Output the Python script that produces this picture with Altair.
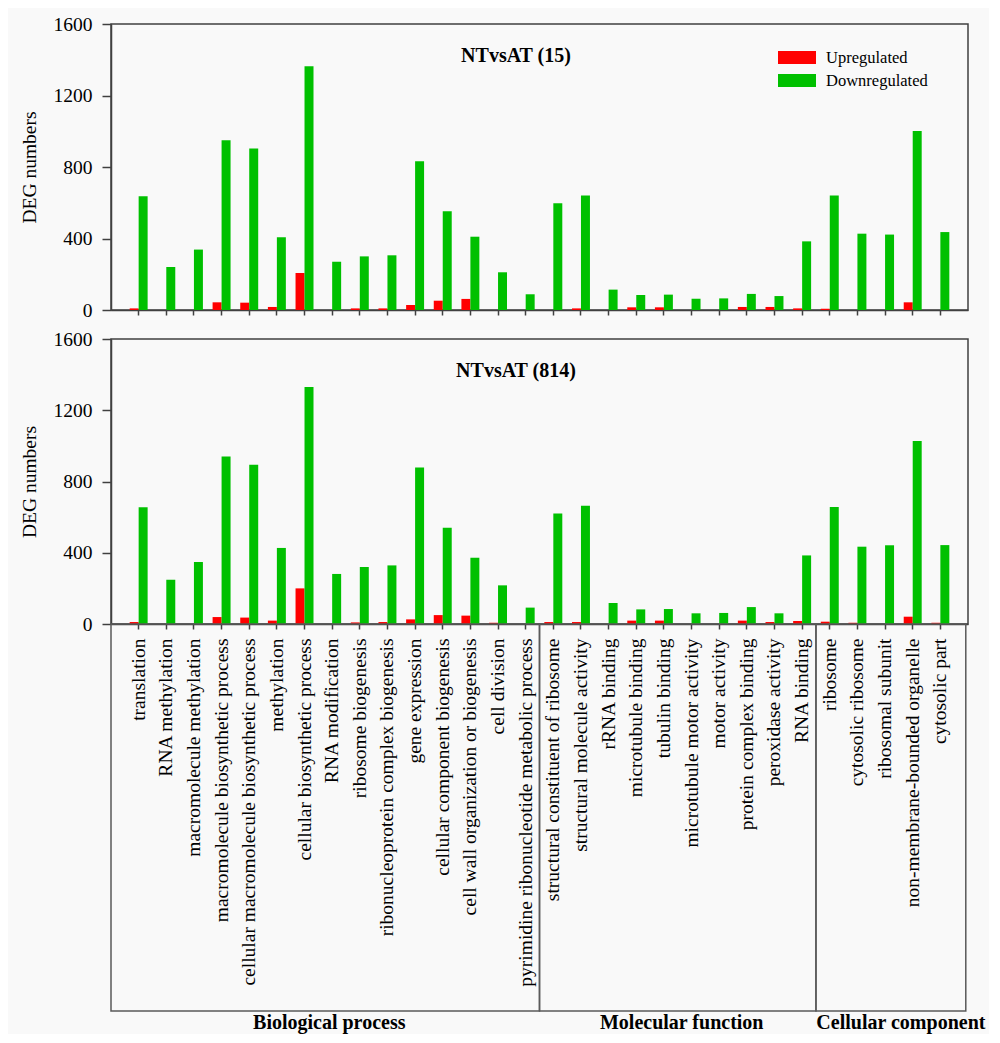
import altair as alt
import pandas as pd

categories = [
    "translation", "RNA methylation", "macromolecule methylation",
    "macromolecule biosynthetic process", "cellular macromolecule biosynthetic process",
    "methylation", "cellular biosynthetic process", "RNA modification",
    "ribosome biogenesis", "ribonucleoprotein complex biogenesis", "gene expression",
    "cellular component biogenesis", "cell wall organization or biogenesis",
    "cell division", "pyrimidine ribonucleotide metabolic process",
    "structural constituent of ribosome", "structural molecule activity",
    "rRNA binding", "microtubule binding", "tubulin binding",
    "microtubule motor activity", "motor activity", "protein complex binding",
    "peroxidase activity", "RNA binding",
    "ribosome", "cytosolic ribosome", "ribosomal subunit",
    "non-membrane-bounded organelle", "cytosolic part",
]
up_15 = [9, 0, 0, 43, 41, 17, 207, 0, 9, 9, 28, 52, 62, 0, 0,
         0, 9, 0, 15, 15, 0, 0, 17, 17, 9,
         7, 0, 0, 43, 0]
down_15 = [636, 241, 338, 949, 903, 407, 1363, 270, 300, 306, 832, 552, 410, 211, 88,
           597, 640, 114, 84, 86, 63, 65, 90, 78, 384,
           640, 427, 422, 1001, 436]
up_814 = [11, 0, 0, 39, 36, 19, 200, 0, 9, 11, 26, 50, 47, 7, 0,
          11, 11, 0, 19, 19, 0, 0, 19, 11, 17,
          13, 7, 0, 41, 7]
down_814 = [655, 249, 348, 941, 894, 427, 1330, 281, 320, 329, 879, 541, 372, 217, 92,
            621, 664, 118, 82, 84, 60, 62, 95, 60, 385,
            657, 434, 442, 1027, 443]
series = ["Upregulated", "Downregulated"]
series_colors = ["#ff0000", "#00c000"]
panel_titles = ["NTvsAT (15)", "NTvsAT (814)"]
group_names = ["Biological process", "Molecular function", "Cellular  component"]
group_start = [-1, 14.5, 24.5]
group_end = [14.5, 24.5, 29.92]
y_ticks = [0, 400, 800, 1200, 1600]

FONT = "Liberation Serif"
W = 857
H_TOP = 286
H_BOT = 285
BOX_BOTTOM = 672


def long_df(up, down):
    rows = []
    for c, u, d in zip(categories, up, down):
        rows.append({"category": c, "series": series[0], "value": u})
        rows.append({"category": c, "series": series[1], "value": d})
    return pd.DataFrame(rows)


color_scale = alt.Scale(domain=series, range=series_colors)
x_scale = alt.Scale(paddingInner=0.35, paddingOuter=0.675)
y_scale = alt.Scale(domain=[0, 1600], nice=False)
y_axis = alt.Axis(values=y_ticks, format="d", title="DEG numbers", tickSize=9,
                  labelPadding=10, titlePadding=14, labelFontSize=19.5, titleFontSize=19.5)


def bar_chart(df, show_labels, legend):
    x_axis = alt.Axis(labels=show_labels, labelAngle=-90, labelLimit=0, tickSize=5,
                      title=None, labelPadding=9, labelFontSize=19.5)
    return alt.Chart(df).mark_bar().encode(
        x=alt.X("category:N", sort=categories, scale=x_scale, axis=x_axis),
        xOffset=alt.XOffset("series:N", sort=series,
                            scale=alt.Scale(domain=series, paddingInner=0, paddingOuter=0)),
        y=alt.Y("value:Q", scale=y_scale, axis=y_axis),
        color=alt.Color("series:N", scale=color_scale, legend=legend),
    )


def title_mark(text):
    return alt.Chart(pd.DataFrame({"t": [text]})).mark_text(
        font=FONT, fontSize=20, fontWeight="bold", color="#000000",
        align="center", baseline="alphabetic",
    ).encode(x=alt.value(405), y=alt.value(38), text="t:N")


legend = alt.Legend(
    title=None, orient="none", legendX=667, legendY=27,
    symbolType="M-1,-0.34H1V0.34H-1Z", symbolSize=1444, symbolStrokeWidth=0,
    symbolOpacity=1, clipHeight=13, rowPadding=6, labelOffset=10,
    labelFont=FONT, labelFontSize=16.5, labelColor="#000000", padding=0,
)

top = alt.layer(
    bar_chart(long_df(up_15, down_15), False, legend),
    title_mark(panel_titles[0]),
).properties(width=W, height=H_TOP)

gdf = pd.DataFrame({"group": group_names, "start": group_start, "end": group_end})
q_scale = alt.Scale(domain=[-1, 30], nice=False, zero=False)

boxes = alt.Chart(gdf).mark_rect(filled=False, stroke="#5a5a5a", strokeWidth=1.5).encode(
    x=alt.X("start:Q", scale=q_scale, axis=None),
    x2="end:Q",
    y=alt.value(H_BOT),
    y2=alt.value(BOX_BOTTOM),
)
group_text = alt.Chart(gdf).transform_calculate(
    mid="(datum.start + datum.end) / 2"
)
group_text_a = group_text.transform_filter(
    alt.FieldOneOfPredicate(field="group", oneOf=group_names[:2])
).mark_text(font=FONT, fontSize=20, fontWeight="bold", color="#000000",
            baseline="middle", align="center", dx=4
).encode(x=alt.X("mid:Q", scale=q_scale, axis=None), y=alt.value(BOX_BOTTOM + 12), text="group:N")
group_text_b = group_text.transform_filter(
    alt.FieldOneOfPredicate(field="group", oneOf=group_names[2:])
).mark_text(font=FONT, fontSize=20, fontWeight="bold", color="#000000",
            baseline="middle", align="center", dx=10
).encode(x=alt.X("mid:Q", scale=q_scale, axis=None), y=alt.value(BOX_BOTTOM + 12), text="group:N")

bottom = alt.layer(
    bar_chart(long_df(up_814, down_814), True, None),
    title_mark(panel_titles[1]),
    boxes, group_text_a, group_text_b,
).resolve_scale(x="independent").properties(width=W, height=H_BOT)

chart = alt.vconcat(top, bottom, spacing=7).resolve_legend(color="independent").configure(
    background="#f9f9f9",
    padding={"left": 10, "top": 5, "right": 0, "bottom": 0},
).configure_view(
    stroke="#404040", strokeWidth=1.5,
).configure_axis(
    domainColor="#404040", tickColor="#404040", domainWidth=1.5, tickWidth=1.5,
    labelFont=FONT, titleFont=FONT, labelColor="#000000", titleColor="#000000",
    titleFontWeight="normal", grid=False,
)

chart.save("out.html", embed_options={"renderer": "svg", "actions": False})
